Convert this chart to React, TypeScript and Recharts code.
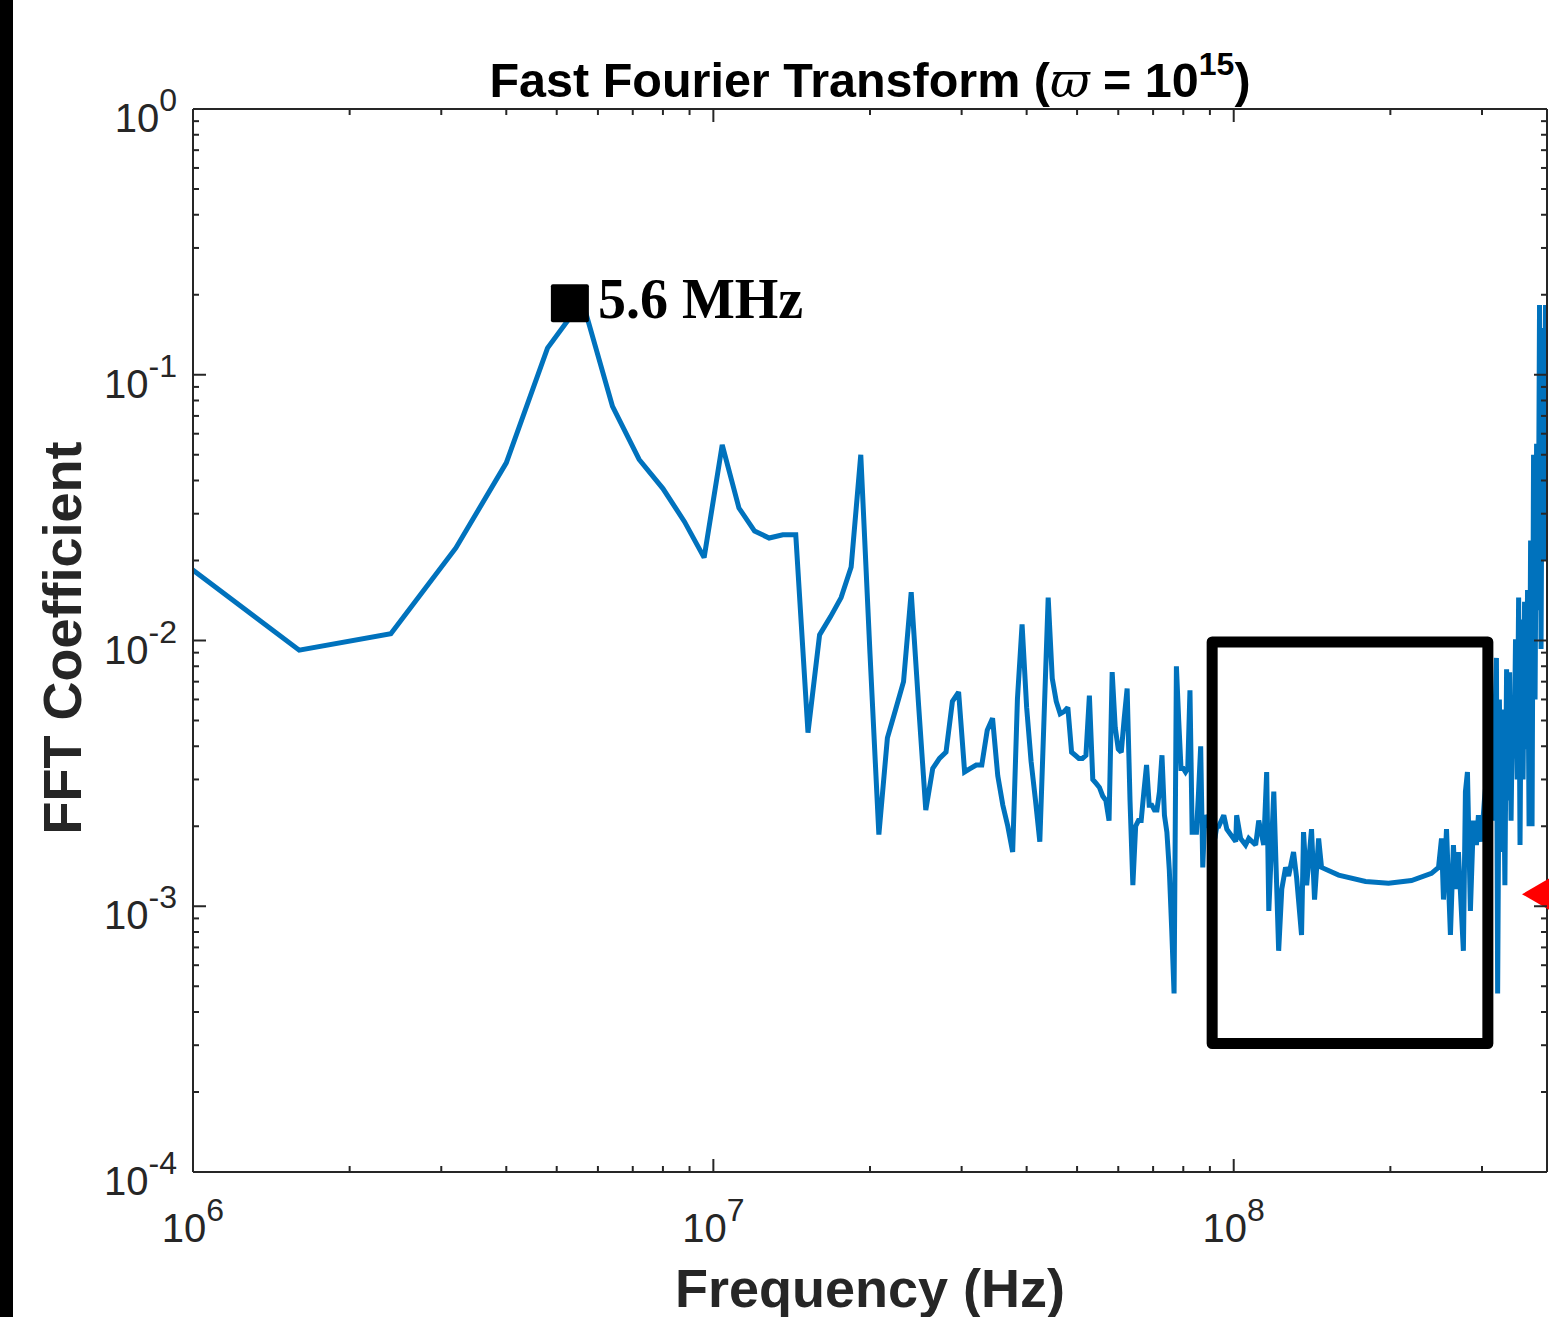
import React from "react";
import { LineChart, Line, XAxis, YAxis, ReferenceArea, ReferenceDot } from "recharts";

// ---- data (frequency in MHz, FFT coefficient) ----
const freqMHz = [
  0.8, 1.6, 2.4, 3.2, 4.0, 4.8, 5.6, 6.4, 7.2, 8.0, 8.8, 9.6, 10.4, 11.2, 12.0, 12.8, 13.6, 14.4,
  15.2, 16.0, 16.8, 17.6, 18.4, 19.2, 20.0, 20.8, 21.6, 22.4, 23.2, 24.0, 24.8, 25.6, 26.4, 27.2,
  28.0, 28.8, 29.6, 30.4, 31.2, 32.0, 32.8, 33.6, 34.4, 35.2, 36.0, 36.8, 37.6, 38.4, 39.2, 40.0,
  40.8, 41.6, 42.4, 43.2, 44.0, 44.8, 45.6, 46.4, 47.2, 48.0, 48.8, 49.6, 50.4, 51.2, 52.0, 52.8,
  53.6, 54.4, 55.2, 56.0, 56.8, 57.6, 58.4, 59.2, 60.0, 60.8, 61.6, 62.4, 63.2, 64.0, 64.8, 65.6,
  66.4, 67.2, 68.0, 68.8, 69.6, 70.4, 71.2, 72.0, 72.8, 73.6, 74.4, 75.2, 76.0, 76.8, 77.6, 78.4,
  79.2, 80.0, 80.8, 81.6, 82.4, 83.2, 84.0, 84.8, 85.6, 86.4, 87.2, 88.0, 88.8, 89.6, 90.4, 91.2,
  92.0, 92.8,
  93.6, 95.7, 97.0, 100.9, 101.3, 103.1, 105.4, 106.9, 110.2, 111.7, 114.2, 115.7, 116.8, 119.4,
  122.0, 123.7, 125.8, 127.5, 130.3, 132.1, 135.0, 136.2, 138.1, 141.1, 143.0, 145.6, 147.5,
  159.1, 179.2, 198.4, 219.6, 239.9, 247.5,
  250.8, 253.0, 256.4, 260.9, 264.4, 266.7, 270.3, 276.3, 278.8, 281.3, 285.0, 288.8, 292.7,
  295.3, 299.2, 303.2, 308.6, 314.2,
  319.8, 321.5, 324.0, 326.9, 329.5, 332.0, 334.5, 336.8, 339.0, 341.2, 343.5, 345.8, 348.0,
  350.5, 352.8, 355.0, 357.4, 359.8, 362.2, 364.6, 367.0, 369.5, 372.0, 374.4, 376.9, 379.4,
  382.0, 384.5, 387.0, 389.6, 392.2, 394.8, 397.4,
];

const coeff = [
  0.0256, 0.0092, 0.0106, 0.0223, 0.0466, 0.126, 0.19, 0.076, 0.048, 0.0373, 0.028, 0.0205,
  0.0545, 0.0315, 0.0258, 0.0243, 0.025, 0.025,
  0.0045, 0.0105, 0.0123, 0.0145, 0.0189, 0.05, 0.0089, 0.00186, 0.0043, 0.0055, 0.007, 0.0152,
  0.0057, 0.0023, 0.0033, 0.0036,
  0.0038, 0.0059, 0.0064, 0.0032, 0.0033, 0.0034, 0.0034, 0.0046, 0.0051, 0.0031, 0.0024,
  0.002, 0.0016, 0.006, 0.0115, 0.0056,
  0.0035, 0.0025, 0.00175, 0.0051, 0.0145, 0.0072, 0.0059, 0.0053, 0.0054, 0.0056, 0.0038,
  0.0037, 0.0036, 0.0036, 0.0037, 0.0062,
  0.003, 0.0029, 0.0028, 0.0026, 0.0025, 0.0021, 0.0076, 0.0047, 0.0039, 0.0038, 0.0051,
  0.0066, 0.0025, 0.0012, 0.002, 0.0021,
  0.0021, 0.0027, 0.0034, 0.0024, 0.0024, 0.0023, 0.0023, 0.0027, 0.0037, 0.0022, 0.0019,
  0.00137, 0.00082, 0.00047, 0.008, 0.005,
  0.0033, 0.0033, 0.0032, 0.0033, 0.0065, 0.0019, 0.0019, 0.0019, 0.0027, 0.004, 0.0014,
  0.0022, 0.0021, 0.002, 0.0019, 0.0021,
  0.0018, 0.002,
  0.002, 0.0022, 0.00195, 0.00175, 0.0022, 0.0018, 0.0017, 0.0018, 0.0017, 0.0021, 0.0017,
  0.0032, 0.00096, 0.0027,
  0.00068, 0.00116, 0.0014, 0.0013, 0.0016, 0.00128, 0.00078, 0.0019, 0.0012, 0.00195,
  0.00106, 0.0018, 0.0014,
  0.00131, 0.00124, 0.00122, 0.00125, 0.00133, 0.0014,
  0.0018, 0.00106, 0.00195, 0.00078, 0.0017, 0.00116, 0.0016, 0.00068, 0.0027, 0.0032,
  0.00096, 0.0021, 0.0017,
  0.0022, 0.00175, 0.0025, 0.0036, 0.0021,
  0.0086, 0.00047, 0.006, 0.0016, 0.0055, 0.0012, 0.0078, 0.0025, 0.0076, 0.0021, 0.006,
  0.0036, 0.0101,
  0.003, 0.0145, 0.0017, 0.012, 0.003, 0.014, 0.0039, 0.0155, 0.002, 0.0238, 0.002, 0.05,
  0.006,
  0.055, 0.013, 0.183, 0.0093, 0.15, 0.02, 0.183,
];

// ---- axes ----
const xDomain = [1e6, 4e8];
const yDomain = [1e-4, 1];
const xMajorTicks = [1e6, 1e7, 1e8];
const xMajorExps = ["6", "7", "8"];
const xMinorTicks = [
  2e6, 3e6, 4e6, 5e6, 6e6, 7e6, 8e6, 9e6,
  2e7, 3e7, 4e7, 5e7, 6e7, 7e7, 8e7, 9e7,
  2e8, 3e8,
];
const yMajorTicks = [1e-4, 1e-3, 1e-2, 1e-1, 1];
const yMajorExps = ["-4", "-3", "-2", "-1", "0"];
const yMinorTicks = [
  2e-4, 3e-4, 4e-4, 5e-4, 6e-4, 7e-4, 8e-4, 9e-4,
  2e-3, 3e-3, 4e-3, 5e-3, 6e-3, 7e-3, 8e-3, 9e-3,
  2e-2, 3e-2, 4e-2, 5e-2, 6e-2, 7e-2, 8e-2, 9e-2,
  0.2, 0.3, 0.4, 0.5, 0.6, 0.7, 0.8, 0.9,
];

// ---- annotations ----
const peakMarker = { f: 5.3e6, v: 0.186, label: "5.6 MHz" };
const highlightBox = { f1: 90.9e6, f2: 307.9e6, v1: 3.045e-4, v2: 0.00987 };
const redMarker = { f: 4e8, v: 1.11e-3 };

const titleText = "Fast Fourier Transform (";
const xLabel = "Frequency (Hz)";
const yLabel = "FFT Coefficient";

const data = freqMHz.map((f, i) => ({ f: f * 1e6, v: coeff[i] }));

const AX = "#262626";
const SANS = "'Liberation Sans', Arial, Helvetica, sans-serif";
const MAJ = 13;
const MIN = 6;

const XBottomTick = (props: any) => {
  const { x, y, payload } = props;
  const i = xMajorTicks.indexOf(payload.value);
  const major = i >= 0;
  return (
    <g>
      <line x1={x} x2={x} y1={y} y2={y - (major ? MAJ : MIN)} stroke={AX} strokeWidth={2} />
      {major && (
        <text x={x} y={y + 70} textAnchor="middle" fontFamily={SANS} fontSize={40} fill={AX}>
          10<tspan dy={-21} fontSize={32}>{xMajorExps[i]}</tspan>
        </text>
      )}
    </g>
  );
};

const XTopTick = (props: any) => {
  const { x, y, payload } = props;
  const major = xMajorTicks.indexOf(payload.value) >= 0;
  return <line x1={x} x2={x} y1={y} y2={y + (major ? MAJ : MIN)} stroke={AX} strokeWidth={2} />;
};

const YLeftTick = (props: any) => {
  const { x, y, payload } = props;
  const i = yMajorTicks.indexOf(payload.value);
  const major = i >= 0;
  return (
    <g>
      <line x1={x} x2={x + (major ? MAJ : MIN)} y1={y} y2={y} stroke={AX} strokeWidth={2} />
      {major && (
        <text x={x - 16} y={y + 23} textAnchor="end" fontFamily={SANS} fontSize={40} fill={AX}>
          10<tspan dy={-21} fontSize={32}>{yMajorExps[i]}</tspan>
        </text>
      )}
    </g>
  );
};

const YRightTick = (props: any) => {
  const { x, y, payload } = props;
  const major = yMajorTicks.indexOf(payload.value) >= 0;
  return <line x1={x} x2={x - (major ? MAJ : MIN)} y1={y} y2={y} stroke={AX} strokeWidth={2} />;
};

const PeakShape = (props: any) => {
  const { cx, cy } = props;
  return (
    <g>
      <rect x={cx - 19} y={cy - 19} width={38} height={38} rx={2} fill="#000" />
      <text
        x={cx + 28}
        y={cy + 15}
        fontFamily="'Liberation Serif', 'Times New Roman', serif"
        fontWeight="bold"
        fontSize={56}
        fill="#000"
      >
        {peakMarker.label}
      </text>
    </g>
  );
};

const RedTriangle = (props: any) => {
  const { cx, cy } = props;
  return (
    <polygon
      points={`${cx - 25},${cy} ${cx + 25},${cy - 29} ${cx + 25},${cy + 29}`}
      fill="#ff0000"
    />
  );
};

const xTicks = [...xMajorTicks, ...xMinorTicks];
const yTicks = [...yMajorTicks, ...yMinorTicks];

export default function App() {
  const axisLine = { stroke: AX, strokeWidth: 2 };
  return (
    <div style={{ position: "absolute", left: 0, top: 0, width: 1549, height: 1317, background: "#fff", overflow: "hidden" }}>
      <div style={{ position: "absolute", left: 0, top: 0, width: 13, height: 1317, background: "#000" }} />
      <div style={{ position: "absolute", left: 0, top: 0 }}>
        <LineChart width={1549} height={1317} data={data} margin={{ top: 108, right: 1, bottom: 144, left: 192 }}>
          <XAxis
            xAxisId="x"
            dataKey="f"
            type="number"
            scale="log"
            domain={xDomain}
            allowDataOverflow
            ticks={xTicks}
            interval={0}
            height={1}
            tickSize={0}
            tickMargin={0}
            tickLine={false}
            axisLine={axisLine}
            tick={<XBottomTick />}
          />
          <XAxis
            xAxisId="xt"
            orientation="top"
            dataKey="f"
            type="number"
            scale="log"
            domain={xDomain}
            allowDataOverflow
            ticks={xTicks}
            interval={0}
            height={1}
            tickSize={0}
            tickMargin={0}
            tickLine={false}
            axisLine={axisLine}
            tick={<XTopTick />}
          />
          <YAxis
            yAxisId="y"
            type="number"
            scale="log"
            domain={yDomain}
            allowDataOverflow
            ticks={yTicks}
            interval={0}
            width={1}
            tickSize={0}
            tickMargin={0}
            tickLine={false}
            axisLine={axisLine}
            tick={<YLeftTick />}
          />
          <YAxis
            yAxisId="yr"
            orientation="right"
            type="number"
            scale="log"
            domain={yDomain}
            allowDataOverflow
            ticks={yTicks}
            interval={0}
            width={1}
            tickSize={0}
            tickMargin={0}
            tickLine={false}
            axisLine={axisLine}
            tick={<YRightTick />}
          />
          <Line
            xAxisId="x"
            yAxisId="y"
            type="linear"
            dataKey="v"
            stroke="#0072BD"
            strokeWidth={5}
            strokeLinejoin="miter"
            strokeMiterlimit={2}
            dot={false}
            activeDot={false}
            isAnimationActive={false}
          />
          <ReferenceArea
            xAxisId="x"
            yAxisId="y"
            x1={highlightBox.f1}
            x2={highlightBox.f2}
            y1={highlightBox.v1}
            y2={highlightBox.v2}
            fill="none"
            fillOpacity={0}
            stroke="#000"
            strokeWidth={11}
            strokeLinejoin="round"
            ifOverflow="visible"
            zIndex={1500}
          />
          <ReferenceDot
            xAxisId="x"
            yAxisId="y"
            x={peakMarker.f}
            y={peakMarker.v}
            r={19}
            ifOverflow="visible"
            shape={PeakShape}
            zIndex={1600}
          />
          <ReferenceDot
            xAxisId="x"
            yAxisId="y"
            x={redMarker.f}
            y={redMarker.v}
            r={25}
            ifOverflow="visible"
            shape={RedTriangle}
            zIndex={1600}
          />
        </LineChart>
      </div>
      <svg width={1549} height={1317} style={{ position: "absolute", left: 0, top: 0, pointerEvents: "none" }}>
        <text x={870} y={97} textAnchor="middle" fontFamily={SANS} fontWeight="bold" fontSize={48.5} fill="#000">
          {titleText}
          <tspan fontFamily="'DejaVu Serif', 'Liberation Serif', serif" fontStyle="italic" fontWeight="normal">ϖ</tspan>
          {" = 10"}
          <tspan dy={-22} fontSize={32}>15</tspan>
          <tspan dy={22}>)</tspan>
        </text>
        <text x={870} y={1307} textAnchor="middle" fontFamily={SANS} fontWeight="bold" fontSize={54} fill={AX}>
          {xLabel}
        </text>
        <text
          x={81}
          y={638}
          textAnchor="middle"
          fontFamily={SANS}
          fontWeight="bold"
          fontSize={54}
          fill={AX}
          transform="rotate(-90, 81, 638)"
        >
          {yLabel}
        </text>
      </svg>
    </div>
  );
}
